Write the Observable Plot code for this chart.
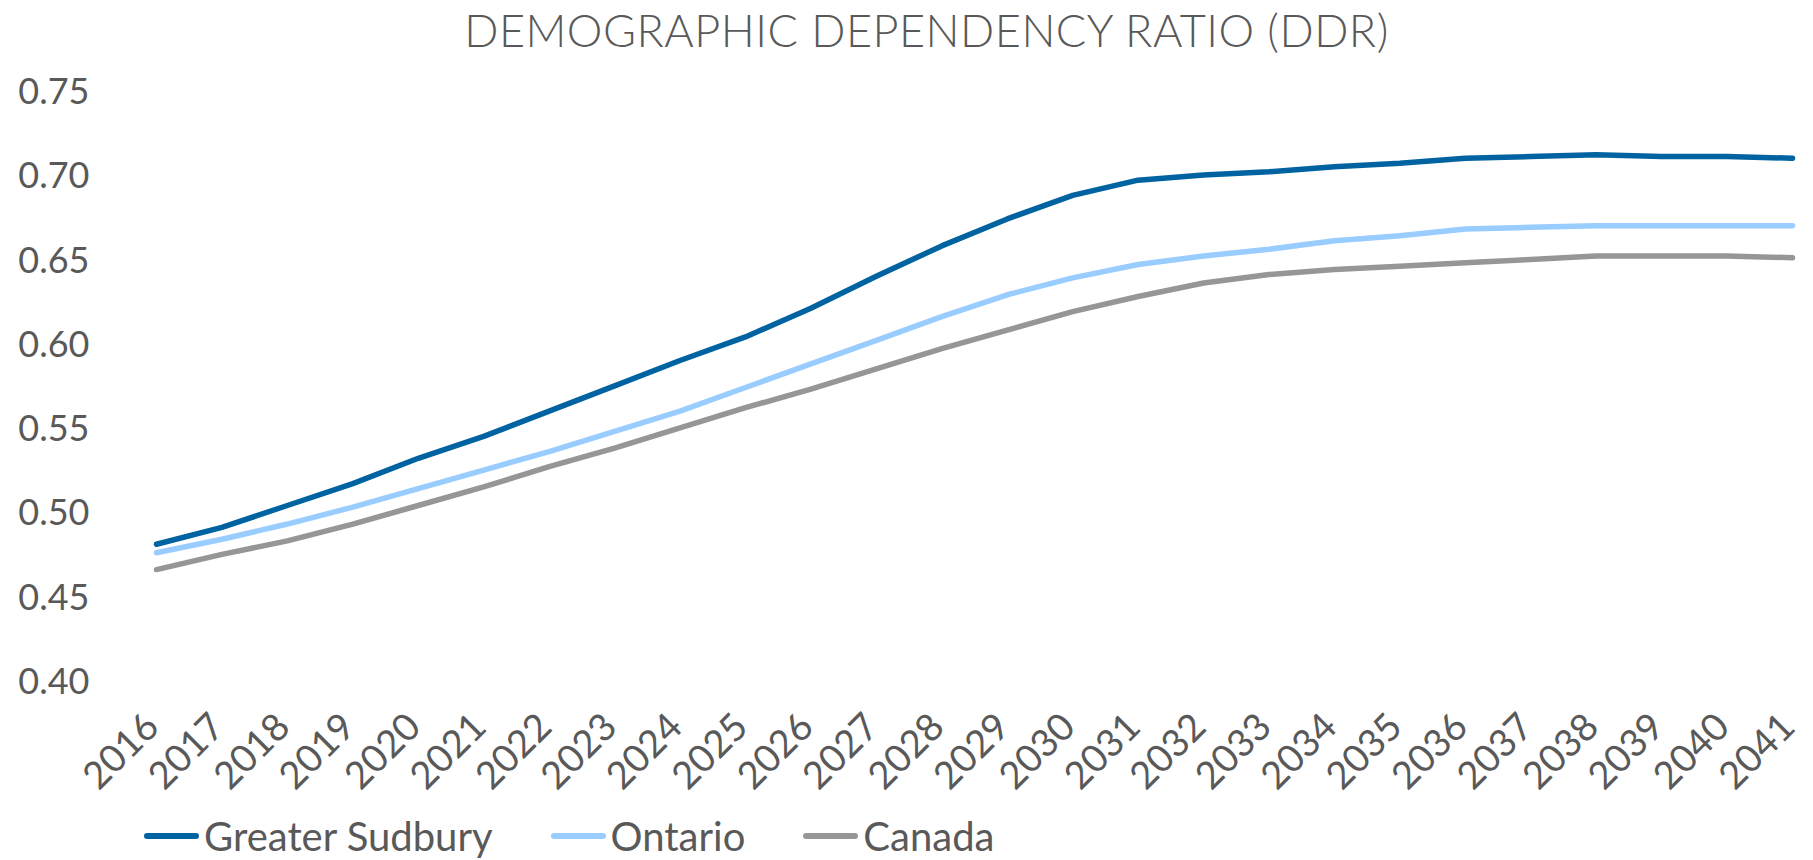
<!DOCTYPE html>
<html>
<head>
<meta charset="utf-8">
<script src="https://cdn.jsdelivr.net/npm/d3@7"></script>
<script src="https://cdn.jsdelivr.net/npm/@observablehq/plot@0.6"></script>
<style>
  html, body { margin: 0; padding: 0; background: #fff; }
  #wrap { position: relative; width: 1813px; height: 860px; overflow: hidden; font-family: "Century Gothic", Lato, "Open Sans", sans-serif; color: #595959; }
  #title { position: absolute; left: 0; top: 0; width: 1813px; height: 60px; text-align: center; font-size: 45px; line-height: 60px; letter-spacing: 0.5px; padding-left: 40px; box-sizing: border-box; font-weight: 300; }
  #chart { position: absolute; left: 0; top: 60px; }
  #legend { position: absolute; left: 144px; top: 812px; height: 48px; display: flex; align-items: center; font-size: 40px; }
  .item { display: flex; align-items: center; margin-right: 58px; }
  .sw { width: 55px; height: 6px; border-radius: 3px; margin-right: 5px; }
</style>
</head>
<body>
<div id="wrap">
  <div id="title">DEMOGRAPHIC DEPENDENCY RATIO (DDR)</div>
  <div id="chart"></div>
  <div id="legend"></div>
</div>
<script>
const years = [2016,2017,2018,2019,2020,2021,2022,2023,2024,2025,2026,2027,2028,2029,2030,2031,2032,2033,2034,2035,2036,2037,2038,2039,2040,2041];
const seriesNames = ["Greater Sudbury", "Ontario", "Canada"];
const seriesColors = ["#0063A1", "#99CCFF", "#969696"];
const sudbury = [0.482,0.492,0.505,0.518,0.533,0.546,0.561,0.576,0.591,0.605,0.622,0.641,0.659,0.675,0.689,0.698,0.701,0.703,0.706,0.708,0.711,0.712,0.713,0.712,0.712,0.711];
const ontario = [0.477,0.485,0.494,0.504,0.515,0.526,0.537,0.549,0.561,0.575,0.589,0.603,0.617,0.630,0.640,0.648,0.653,0.657,0.662,0.665,0.669,0.670,0.671,0.671,0.671,0.671];
const canada  = [0.467,0.476,0.484,0.494,0.505,0.516,0.528,0.539,0.551,0.563,0.574,0.586,0.598,0.609,0.620,0.629,0.637,0.642,0.645,0.647,0.649,0.651,0.653,0.653,0.653,0.652];
const yTicks = [0.40,0.45,0.50,0.55,0.60,0.65,0.70,0.75];

const seriesValues = [sudbury, ontario, canada];
const data = [];
seriesNames.forEach((name, i) => {
  years.forEach((yr, j) => data.push({series: name, year: String(yr), value: seriesValues[i][j]}));
});

const chart = Plot.plot({
  width: 1813,
  height: 740,
  marginLeft: 124,
  marginRight: 0,
  marginTop: 32,
  marginBottom: 118,
  style: { fontFamily: '"Century Gothic", Lato, "Open Sans", sans-serif', color: "#595959", background: "transparent" },
  x: { type: "point", domain: years.map(String), range: [156, 1792], round: false, padding: 0 },
  y: { domain: [0.40, 0.75] },
  color: { domain: seriesNames, range: seriesColors },
  marks: [
    Plot.gridY(yTicks, { x1: 124, x2: 1813, stroke: "#d9d9d9", strokeOpacity: 1, strokeWidth: 1.5 }),
    Plot.axisY(yTicks, { tickSize: 0, tickPadding: 35, tickFormat: d3.format(".2f"), fontSize: 36, fill: "#595959", label: null }),
    Plot.axisX({ tickSize: 0, tickPadding: 38, tickRotate: -45, fontSize: 38, dx: -4, fill: "#595959", label: null }),
    Plot.line(data, { x: "year", y: "value", z: "series", stroke: "series", strokeWidth: 5.5, strokeLinecap: "round", strokeLinejoin: "round" })
  ]
});
document.getElementById("chart").appendChild(chart);

const legend = document.getElementById("legend");
seriesNames.forEach((name, i) => {
  const item = document.createElement("div");
  item.className = "item";
  const sw = document.createElement("div");
  sw.className = "sw";
  sw.style.background = seriesColors[i];
  const tx = document.createElement("span");
  tx.textContent = name;
  item.appendChild(sw);
  item.appendChild(tx);
  legend.appendChild(item);
});
</script>
</body>
</html>
